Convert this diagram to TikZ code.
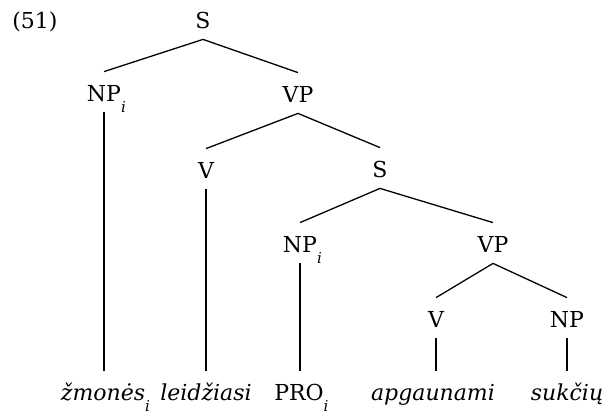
\documentclass[tikz,border=0pt]{standalone}
\usepackage{fontspec}
\setmainfont{DejaVu Serif}
\newcommand{\subi}{\rlap{\raisebox{-5.5pt}{\fontsize{7.5pt}{8pt}\selectfont\itshape i}}}
\begin{document}
\begin{tikzpicture}[x=0.5pt,y=-0.5pt,
  cat/.style={anchor=base,inner xsep=0pt,inner ysep=0pt,text height=14.5pt,text depth=5.5pt,font=\fontsize{11pt}{13pt}\selectfont},
  edge/.style={line width=0.65pt}]
\useasboundingbox (0,0) rectangle (603,412);
\node[anchor=base west,inner sep=0pt,font=\fontsize{11pt}{13pt}\selectfont] (ex) at (12,28) {(51)};
\node[cat] (s1) at (203,28) {S};
\node[cat] (np1) at (104,101) {NP\subi};
\node[cat] (vp1) at (298,102) {VP};
\node[cat] (v1) at (206,178) {V};
\node[cat] (s2) at (380,177) {S};
\node[cat] (np2) at (300,252) {NP\subi};
\node[cat] (vp2) at (493,252) {VP};
\node[cat] (v3) at (436,327) {V};
\node[cat] (np3) at (567,327) {NP};
\node[cat] (w1) at (103,400) {\itshape žmonės\subi};
\node[cat] (w2) at (206,400) {\itshape leidžiasi};
\node[cat] (w3) at (299,400) {PRO\subi};
\node[cat] (w4) at (433,400) {\itshape apgaunami};
\node[cat] (w5) at (567,400) {\itshape sukčių};
\draw[edge] (s1.south) -- (np1.north);
\draw[edge] (s1.south) -- (vp1.north);
\draw[edge] (np1.south) -- (np1.south |- w1.north);
\draw[edge] (vp1.south) -- (v1.north);
\draw[edge] (vp1.south) -- (s2.north);
\draw[edge] (v1.south) -- (v1.south |- w2.north);
\draw[edge] (s2.south) -- (np2.north);
\draw[edge] (s2.south) -- (vp2.north);
\draw[edge] (np2.south) -- (np2.south |- w3.north);
\draw[edge] (vp2.south) -- (v3.north);
\draw[edge] (vp2.south) -- (np3.north);
\draw[edge] (v3.south) -- (v3.south |- w4.north);
\draw[edge] (np3.south) -- (np3.south |- w5.north);
\end{tikzpicture}
\end{document}
